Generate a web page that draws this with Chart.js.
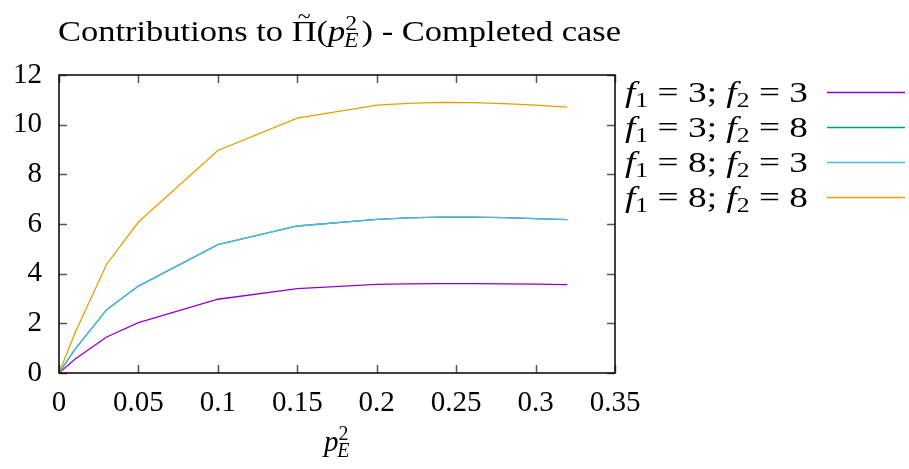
<!DOCTYPE html>
<html>
<head>
<meta charset="utf-8">
<script src="https://cdn.jsdelivr.net/npm/chart.js@4.4.0/dist/chart.umd.min.js"></script>
<style>
  html, body { margin: 0; padding: 0; background: #fff; }
</style>
</head>
<body>
<canvas id="contribChart" width="909" height="469"></canvas>
<script>
// --- DATA ---
const pE2 = [0, 0.01, 0.03, 0.05, 0.1, 0.15, 0.2, 0.22, 0.24, 0.26, 0.28, 0.30, 0.32];
const f3f3 = [0, 0.55, 1.45, 2.03, 2.97, 3.40, 3.57, 3.59, 3.60, 3.60, 3.59, 3.58, 3.56];
const f3f8 = [0, 0.95, 2.55, 3.50, 5.17, 5.92, 6.19, 6.25, 6.28, 6.28, 6.26, 6.22, 6.18];
const f8f3 = [0, 0.95, 2.55, 3.50, 5.17, 5.92, 6.19, 6.25, 6.28, 6.28, 6.26, 6.22, 6.18];
const f8f8 = [0, 1.60, 4.38, 6.08, 8.96, 10.26, 10.79, 10.86, 10.90, 10.89, 10.85, 10.79, 10.71];

const xTicks = [0, 0.05, 0.1, 0.15, 0.2, 0.25, 0.3, 0.35];
const yTicks = [0, 2, 4, 6, 8, 10, 12];

const legendF1 = [3, 3, 8, 8];
const legendF2 = [3, 8, 3, 8];

const COLORS = ['#9400d3', '#009e73', '#56b4e9', '#e69f00'];
const FONT = '"Liberation Serif", "DejaVu Serif", serif';
const TEXT_SIZE = 29;

// --- rich text helper (italic, sub/superscripts, tilde accent) ---
function runFont(r, size) {
    const s = r.small ? size * 0.7 : size;
    return (r.it ? 'italic ' : '') + Math.round(s) + 'px ' + FONT;
}

function runWidth(ctx, r, size) {
    if (r.stack) {
        ctx.font = runFont({ small: true }, size);
        const a = ctx.measureText(r.stack[0]).width;
        ctx.font = runFont({ small: true, it: true }, size);
        const b = ctx.measureText(r.stack[1]).width;
        return Math.max(a, b) + size * 0.05;
    }
    ctx.font = runFont(r, size);
    return ctx.measureText(r.t).width;
}

function drawRich(ctx, runs, x, baseline, size, align, fitWidth) {
    const widths = runs.map(r => runWidth(ctx, r, size));
    const total = widths.reduce((a, b) => a + b, 0);
    const sx = fitWidth ? fitWidth / total : 1;
    const w = total * sx;
    const start = align === 'center' ? x - w / 2 : x;

    ctx.save();
    ctx.translate(start, baseline);
    ctx.scale(sx, 1);
    ctx.fillStyle = '#000';
    ctx.textBaseline = 'alphabetic';
    ctx.textAlign = 'left';
    let cx = 0;
    runs.forEach((r, i) => {
        if (r.stack) {
            ctx.font = runFont({ small: true }, size);
            ctx.fillText(r.stack[0], cx, -size * 0.38);
            ctx.font = runFont({ small: true, it: true }, size);
            ctx.fillText(r.stack[1], cx - size * 0.04, size * 0.22);
        } else {
            ctx.font = runFont(r, size);
            const dy = r.sub ? size * 0.2 : 0;
            ctx.fillText(r.t, cx, dy);
            if (r.tilde) {
                ctx.font = runFont({ small: true }, size);
                const tw = ctx.measureText('~').width;
                ctx.fillText('~', cx + (widths[i] - tw) / 2, -size * 0.62);
            }
        }
        cx += widths[i];
    });
    ctx.restore();
}

// --- plugin: frame, inward mirrored ticks, title, axis title, legend ---
const gnuplotDecor = {
    id: 'gnuplotDecor',
    afterDraw(chart) {
        const ctx = chart.ctx;
        const area = chart.chartArea;
        const xs = chart.scales.x;
        const ys = chart.scales.y;
        const tickLen = 8;

        ctx.save();
        ctx.strokeStyle = '#555';
        ctx.lineWidth = 1.5;
        ctx.beginPath();
        xTicks.forEach(v => {
            const px = Math.round(xs.getPixelForValue(v)) + 0.5;
            ctx.moveTo(px, area.bottom); ctx.lineTo(px, area.bottom - tickLen);
            ctx.moveTo(px, area.top); ctx.lineTo(px, area.top + tickLen);
        });
        yTicks.forEach(v => {
            const py = Math.round(ys.getPixelForValue(v)) + 0.5;
            ctx.moveTo(area.left, py); ctx.lineTo(area.left + tickLen, py);
            ctx.moveTo(area.right, py); ctx.lineTo(area.right - tickLen, py);
        });
        ctx.stroke();

        ctx.strokeStyle = '#111';
        ctx.lineWidth = 1.6;
        ctx.strokeRect(area.left, area.top, area.right - area.left, area.bottom - area.top);
        ctx.restore();

        // Title
        drawRich(ctx, [
            { t: 'Contributions to ' },
            { t: '\u03A0', tilde: true },
            { t: '(' },
            { t: 'p', it: true },
            { stack: ['2', 'E'] },
            { t: ') - Completed case' }
        ], 339.5, 41, TEXT_SIZE, 'center', 563);

        // X axis title
        drawRich(ctx, [
            { t: 'p', it: true },
            { stack: ['2', 'E'] }
        ], 338, 451, TEXT_SIZE, 'center');

        // Legend
        legendF1.forEach((f1, i) => {
            const base = 101.5 + i * 35;
            drawRich(ctx, [
                { t: 'f', it: true },
                { t: '1', small: true, sub: true },
                { t: ' = ' + f1 + '; ' },
                { t: 'f', it: true },
                { t: '2', small: true, sub: true },
                { t: ' = ' + legendF2[i] }
            ], 625, base, TEXT_SIZE, 'left', 183);
            ctx.save();
            ctx.strokeStyle = COLORS[i];
            ctx.lineWidth = 1.3;
            ctx.beginPath();
            ctx.moveTo(827, base - 9);
            ctx.lineTo(905, base - 9);
            ctx.stroke();
            ctx.restore();
        });
    }
};

function makeSeries(values) {
    return values.map((v, i) => ({ x: pE2[i], y: v }));
}

const seriesList = [f3f3, f3f8, f8f3, f8f8];
const drawOrder = [3, 2, 1, 0];

new Chart(document.getElementById('contribChart'), {
    type: 'line',
    data: {
        datasets: seriesList.map((vals, i) => ({
            label: 'f1 = ' + legendF1[i] + '; f2 = ' + legendF2[i],
            data: makeSeries(vals),
            borderColor: COLORS[i],
            backgroundColor: COLORS[i],
            borderWidth: 1.3,
            pointRadius: 0,
            tension: 0,
            fill: false,
            order: drawOrder[i]
        }))
    },
    options: {
        responsive: false,
        animation: false,
        devicePixelRatio: 1,
        layout: { padding: { top: 75, right: 294, left: 0, bottom: 0 } },
        plugins: {
            legend: { display: false },
            title: { display: false },
            tooltip: { enabled: false }
        },
        scales: {
            x: {
                type: 'linear',
                min: 0,
                max: 0.35,
                afterBuildTicks: s => { s.ticks = xTicks.map(v => ({ value: v })); },
                afterFit: s => { s.height = 96; },
                grid: { display: false, drawTicks: false },
                border: { display: false },
                ticks: {
                    padding: 13,
                    maxRotation: 0,
                    autoSkip: false,
                    color: '#000',
                    font: { family: FONT, size: TEXT_SIZE },
                    callback: v => String(v)
                }
            },
            y: {
                type: 'linear',
                min: 0,
                max: 12,
                afterBuildTicks: s => { s.ticks = yTicks.map(v => ({ value: v })); },
                afterFit: s => { s.width = 59; },
                grid: { display: false, drawTicks: false },
                border: { display: false },
                ticks: {
                    padding: 17,
                    color: '#000',
                    font: { family: FONT, size: TEXT_SIZE },
                    callback: v => String(v)
                }
            }
        }
    },
    plugins: [gnuplotDecor]
});
</script>
</body>
</html>
